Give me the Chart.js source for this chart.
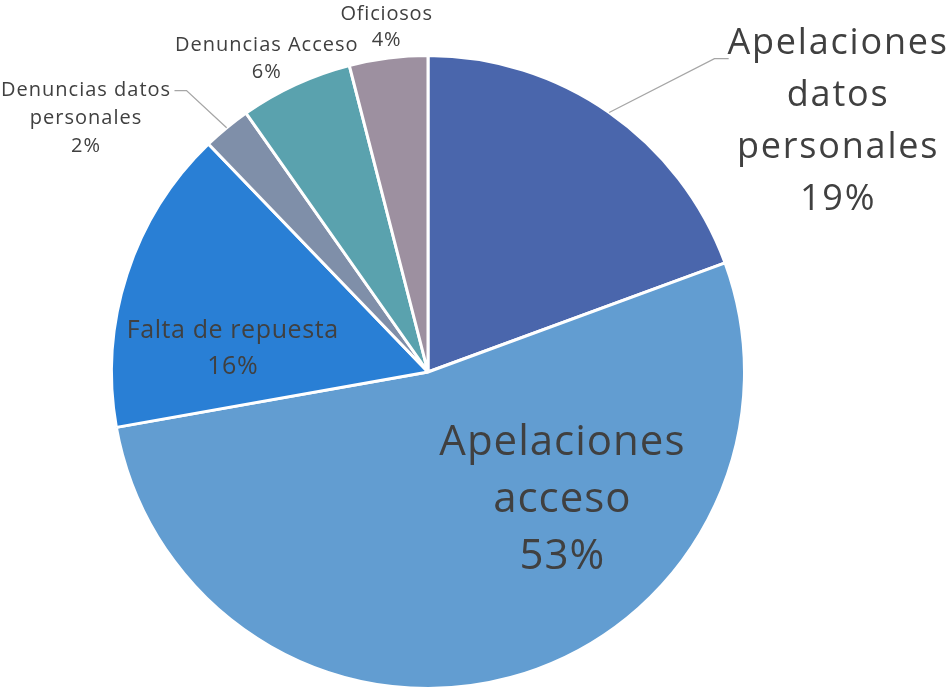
<!DOCTYPE html>
<html>
<head>
<meta charset="utf-8">
<script src="https://cdn.jsdelivr.net/npm/chart.js@4.4.1/dist/chart.umd.min.js"></script>
<style>
  html, body { margin: 0; padding: 0; background: #fff; }
  #wrap { width: 948px; height: 691px; }
</style>
</head>
<body>
<div id="wrap"><canvas id="pieCanvas"></canvas></div>
<script>
// données du graphique (pourcentages)
const categories = [
    "Apelaciones datos personales",
    "Apelaciones acceso",
    "Falta de repuesta",
    "Denuncias datos personales",
    "Denuncias Acceso",
    "Oficiosos"
]
const values = [19.4, 52.8, 15.6, 2.45, 5.75, 4.0]
const labelLines = [
    ["Apelaciones", "datos", "personales"],
    ["Apelaciones", "acceso"],
    ["Falta de repuesta"],
    ["Denuncias datos", "personales"],
    ["Denuncias Acceso"],
    ["Oficiosos"]
]
const colors = ["#4a66ac", "#629dd1", "#297fd5", "#7f8fa9", "#5aa2ae", "#9d90a0"]

// placement des étiquettes, en fractions du rayon
const labelPos = [
    { dx: 1.293, dy: -0.79, size: 36, ls: 1.8, lh: 52, leader: [[0.905, -0.99], [0.95, -0.99]] },
    { dx: 0.423, dy: 0.404, size: 42, ls: 1.0, lh: 57 },
    { dx: -0.618, dy: -0.073, size: 25, ls: 0.6, lh: 36 },
    { dx: -1.082, dy: -0.801, size: 20, ls: 1.0, lh: 28, leader: [[-0.763, -0.889], [-0.801, -0.889]] },
    { dx: -0.511, dy: -0.99, size: 20, ls: 1.0, lh: 27 },
    { dx: -0.132, dy: -1.088, size: 20, ls: 0.8, lh: 26 }
]

const pieLabels = {
    id: 'pieLabels',
    afterDatasetsDraw(chart) {
        const ctx = chart.ctx
        const meta = chart.getDatasetMeta(0)
        const total = values.reduce((a, b) => a + b, 0)
        meta.data.forEach((arc, i) => {
            const cx = arc.x, cy = arc.y, R = arc.outerRadius
            const p = labelPos[i]
            if (p.leader) {
                const mid = (arc.startAngle + arc.endAngle) / 2
                ctx.save()
                ctx.strokeStyle = '#a6a6a6'
                ctx.lineWidth = 1.3
                ctx.beginPath()
                ctx.moveTo(cx + Math.cos(mid) * R, cy + Math.sin(mid) * R)
                p.leader.forEach(pt => ctx.lineTo(cx + pt[0] * R, cy + pt[1] * R))
                ctx.stroke()
                ctx.restore()
            }
            const lines = labelLines[i].concat([Math.round(values[i] / total * 100) + '%'])
            const x = cx + p.dx * R + p.ls / 2
            const y0 = cy + p.dy * R - (lines.length - 1) * p.lh / 2
            ctx.save()
            ctx.fillStyle = '#404040'
            ctx.font = p.size + 'px "Open Sans", sans-serif'
            ctx.letterSpacing = p.ls + 'px'
            ctx.textAlign = 'center'
            ctx.textBaseline = 'middle'
            lines.forEach((t, k) => ctx.fillText(t, x, y0 + k * p.lh))
            ctx.restore()
        })
    }
}

const pieCanvas = document.getElementById('pieCanvas')
const piechart = new Chart(pieCanvas, {
    type: 'pie',
    data: {
        labels: categories,
        datasets: [{
            data: values,
            backgroundColor: colors,
            borderColor: '#ffffff',
            borderWidth: 3
        }]
    },
    options: {
        responsive: true,
        maintainAspectRatio: false,
        animation: false,
        layout: { padding: { top: 54, bottom: 1, left: 110, right: 202 } },
        plugins: {
            legend: { display: false },
            tooltip: { enabled: false }
        }
    },
    plugins: [pieLabels]
})
</script>
</body>
</html>
